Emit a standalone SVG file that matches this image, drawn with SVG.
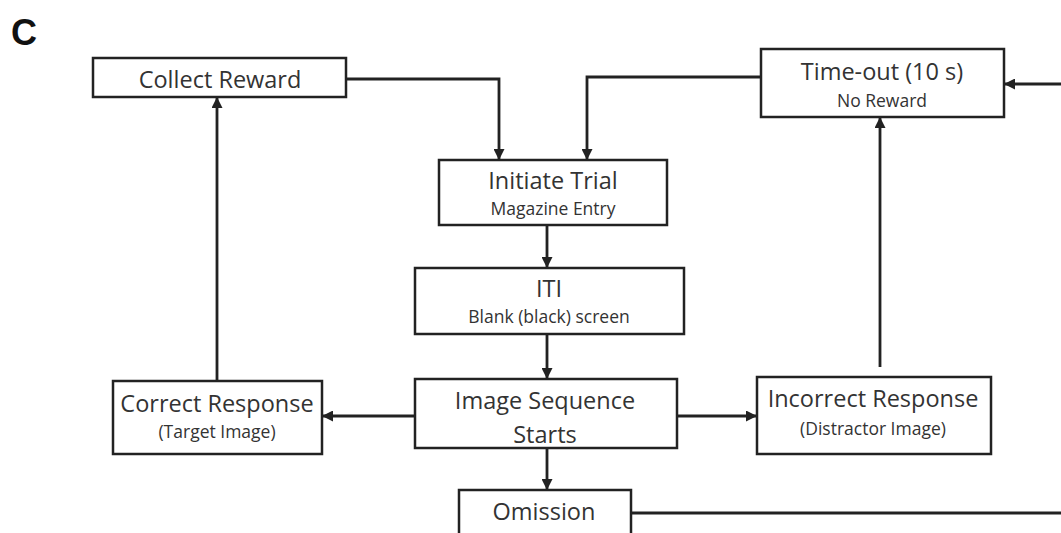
<svg xmlns="http://www.w3.org/2000/svg" width="1061" height="533" viewBox="0 0 1061 533">
<style>
.box{fill:#fff;stroke:#222;stroke-width:2.5}
.t{font-family:"Open Sans","Noto Sans",sans-serif;font-size:23.5px;fill:#333;text-anchor:middle}
.s{font-family:"Open Sans","Noto Sans",sans-serif;font-size:17.5px;fill:#333;text-anchor:middle}
.c{fill:none;stroke:#222;stroke-width:2.8}
.a{marker-end:url(#ah)}
</style>
<defs>
<marker id="ah" viewBox="0 0 10 10" refX="10" refY="5" markerWidth="11" markerHeight="11" markerUnits="userSpaceOnUse" orient="auto">
<path d="M0,0 L10,5 L0,10 z" fill="#222"/>
</marker>
</defs>
<rect width="1061" height="533" fill="#fff"/>
<text x="11" y="45" font-family="Liberation Sans,Arial,sans-serif" font-weight="bold" font-size="36" fill="#111">C</text>
<g id="connectors">
<path class="c a" d="M346,79 H499 V160"/>
<path class="c a" d="M761,77 H587 V160"/>
<path class="c a" d="M547,225 V268"/>
<path class="c a" d="M547,334 V379"/>
<path class="c a" d="M415,416 H322"/>
<path class="c a" d="M677,416 H757"/>
<path class="c a" d="M547,448 V490"/>
<path class="c a" d="M217,381 V97"/>
<path class="c a" d="M880,367 V117"/>
<path class="c" d="M631,513 H1061"/>
<path class="c a" d="M1061,84 H1004"/>
</g>
<g id="collect-reward">
<rect class="box" x="93" y="58" width="253" height="39"/>
<text class="t" x="220" y="88">Collect Reward</text>
</g>
<g id="time-out">
<rect class="box" x="761" y="49" width="243" height="68"/>
<text class="t" x="882" y="80">Time-out (10 s)</text>
<text class="s" x="882" y="107">No Reward</text>
</g>
<g id="initiate-trial">
<rect class="box" x="439" y="160" width="228" height="65"/>
<text class="t" x="553" y="189">Initiate Trial</text>
<text class="s" x="553" y="215">Magazine Entry</text>
</g>
<g id="iti">
<rect class="box" x="415" y="268" width="269" height="66"/>
<text class="t" x="549" y="297">ITI</text>
<text class="s" x="549" y="323">Blank (black) screen</text>
</g>
<g id="image-sequence">
<rect class="box" x="415" y="379" width="262" height="69"/>
<text class="t" x="545" y="409">Image Sequence</text>
<text class="t" x="545" y="443">Starts</text>
</g>
<g id="correct-response">
<rect class="box" x="113" y="381" width="209" height="73"/>
<text class="t" x="217" y="412">Correct Response</text>
<text class="s" x="217" y="438">(Target Image)</text>
</g>
<g id="incorrect-response">
<rect class="box" x="757" y="377" width="234" height="77"/>
<text class="t" x="873" y="407">Incorrect Response</text>
<text class="s" x="873" y="435">(Distractor Image)</text>
</g>
<g id="omission">
<rect class="box" x="459" y="490" width="172" height="50"/>
<text class="t" x="544" y="520">Omission</text>
</g>
</svg>
